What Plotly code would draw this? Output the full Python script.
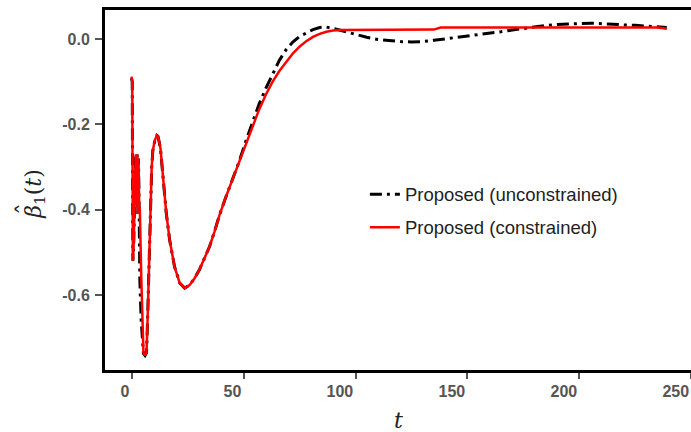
import plotly.graph_objects as go

# time grid shared by both estimates
t = [0, 0.3, 0.6, 1.0, 1.4, 1.9, 2.2, 2.5, 2.8, 3.1, 3.4, 3.7, 4.3, 4.9, 5.3,
     6.0, 6.7, 7.2, 7.8, 8.4, 9.0, 9.5, 10.4, 11.3, 11.8, 12.9, 14, 15.5, 17,
     19.2, 21.5, 23.7, 25.9, 28, 30.3, 32.5, 34.8, 37, 39.2, 42, 45, 48, 51,
     54, 57, 60, 63, 66, 69, 72, 75, 78, 81, 84, 87, 90, 93, 96, 100, 105,
     110, 115, 120, 125, 130, 135, 138, 140, 145, 150, 155, 160, 165, 170,
     175, 180, 185, 190, 195, 200, 205, 210, 215, 220, 225, 230, 235, 239]

# beta_1(t), unconstrained fit
beta_unconstrained = [
    -0.092, -0.10, -0.52, -0.47, -0.36, -0.27, -0.39, -0.27, -0.41, -0.28,
    -0.40, -0.565, -0.66, -0.72, -0.737, -0.742, -0.735, -0.65, -0.52, -0.40,
    -0.30, -0.262, -0.237, -0.226, -0.228, -0.256, -0.323, -0.408, -0.471,
    -0.534, -0.572, -0.584, -0.577, -0.562, -0.541, -0.516, -0.487, -0.452,
    -0.414, -0.372, -0.330, -0.288, -0.240, -0.195, -0.152, -0.115, -0.082,
    -0.050, -0.025, -0.007, 0.006, 0.015, 0.022, 0.027, 0.028, 0.025, 0.021,
    0.016, 0.010, 0.004, -0.001, -0.004, -0.006, -0.007, -0.006, -0.003,
    -0.001, 0.000, 0.003, 0.006, 0.009, 0.013, 0.017, 0.021, 0.025, 0.029,
    0.032, 0.034, 0.035, 0.036, 0.037, 0.036, 0.034, 0.033, 0.032, 0.030,
    0.028, 0.027]

# beta_1(t), constrained fit
beta_constrained = [
    -0.088, -0.10, -0.52, -0.47, -0.36, -0.27, -0.39, -0.27, -0.41, -0.28,
    -0.39, -0.40, -0.55, -0.69, -0.735, -0.742, -0.735, -0.65, -0.52, -0.40,
    -0.30, -0.262, -0.237, -0.226, -0.228, -0.256, -0.323, -0.408, -0.471,
    -0.534, -0.572, -0.584, -0.577, -0.562, -0.541, -0.516, -0.487, -0.452,
    -0.414, -0.372, -0.330, -0.288, -0.246, -0.205, -0.165, -0.130, -0.100,
    -0.075, -0.053, -0.034, -0.018, -0.005, 0.005, 0.012, 0.017, 0.020, 0.021,
    0.021, 0.021, 0.021, 0.021, 0.022, 0.022, 0.022, 0.022, 0.022, 0.027,
    0.027, 0.027, 0.027, 0.027, 0.027, 0.027, 0.027, 0.027, 0.027, 0.027,
    0.027, 0.027, 0.027, 0.027, 0.027, 0.027, 0.027, 0.027, 0.027, 0.027,
    0.024]

x_ticks = [0, 50, 100, 150, 200, 250]
y_ticks = [0.0, -0.2, -0.4, -0.6]
y_tick_labels = ["0.0", "-0.2", "-0.4", "-0.6"]

fig = go.Figure()
fig.add_trace(go.Scatter(
    x=t, y=beta_unconstrained, mode="lines",
    name="Proposed (unconstrained)", legendgroup="a",
    line=dict(color="black", width=3, dash="12px,5px,3px,5px"),
))
fig.add_trace(go.Scatter(
    x=t, y=beta_constrained, mode="lines",
    name="Proposed (constrained)", legendgroup="b",
    line=dict(color="#ff0000", width=2.5),
))

tick_font = dict(family="Liberation Sans, Arial, sans-serif", size=16,
                 color="#555555", weight="bold")
title_font = dict(family="DejaVu Serif, serif", size=22, color="#222222")

fig.update_layout(
    width=700, height=432,
    margin=dict(l=105, r=0, t=10, b=62),
    paper_bgcolor="white", plot_bgcolor="white",
    showlegend=True,
    legend=dict(
        x=0.439, y=0.54, xanchor="left", yanchor="top",
        bgcolor="rgba(0,0,0,0)", borderwidth=0,
        font=dict(family="Liberation Sans, Arial, sans-serif", size=18.5,
                  color="#222222"),
        tracegroupgap=6, traceorder="grouped",
    ),
    xaxis=dict(
        range=[-11.86, 252.5], tickvals=x_ticks,
        ticks="outside", ticklen=6, tickwidth=1.5, tickcolor="#555555",
        showline=True, linecolor="black", linewidth=3, mirror=True,
        showgrid=False, zeroline=False,
        ticklabelposition="outside left", tickfont=tick_font,
        ticklabelstandoff=5,
    ),
    yaxis=dict(
        range=[-0.776, 0.068], tickvals=y_ticks, ticktext=y_tick_labels,
        ticks="outside", ticklen=7, tickwidth=1.5, tickcolor="#555555",
        showline=True, linecolor="black", linewidth=3, mirror=True,
        showgrid=False, zeroline=False,
        tickfont=tick_font, ticklabelstandoff=2,
    ),
    annotations=[
        # y-axis title: beta_1(t) with a hat accent over the beta
        dict(text="<i>β</i><sub>1</sub>(<i>t</i>)", xref="paper", yref="paper",
             x=-0.118, y=0.49, xanchor="center", yanchor="middle",
             showarrow=False, textangle=-90, font=title_font),
        dict(text="ˆ", xref="paper", yref="paper",
             x=-0.1335, y=0.447, xanchor="center", yanchor="middle",
             showarrow=False, textangle=-90,
             font=dict(family="DejaVu Serif, serif", size=24, color="#222222")),
        dict(text="<i>t</i>", xref="paper", yref="paper",
             x=0.495, y=-0.139, xanchor="center", yanchor="middle",
             showarrow=False, font=title_font),
    ],
)

fig.write_html(
    "out.html",
    post_script="document.documentElement.style.overflow='hidden';"
                "document.body.style.overflow='hidden';",
)
